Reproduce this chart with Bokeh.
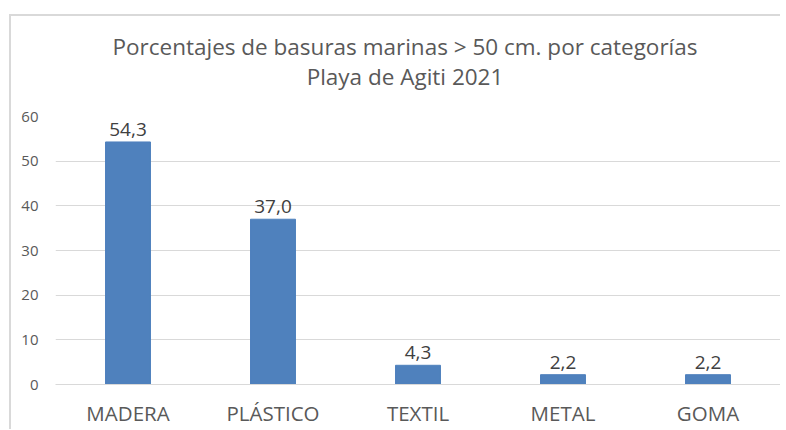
from bokeh.plotting import figure
from bokeh.models import ColumnDataSource, FixedTicker, Div
from bokeh.layouts import column
from bokeh.embed import file_html
from bokeh.resources import INLINE
from bokeh.core.properties import value

categories = ["MADERA", "PLÁSTICO", "TEXTIL", "METAL", "GOMA"]
values = [54.3, 37.0, 4.3, 2.2, 2.2]
labels = [f"{v:.1f}".replace(".", ",") for v in values]
y_ticks = [0, 10, 20, 30, 40, 50, 60]
title_lines = ["Porcentajes de basuras marinas > 50 cm. por categorías", "Playa de Agiti 2021"]

FONT = "Open Sans"
source = ColumnDataSource(dict(cat=categories, val=values, lab=labels))

title_div = Div(
    text="<br>".join(title_lines), width=769, height=84, margin=0,
    styles={"font-family": FONT, "font-size": "22.5px", "line-height": "30px",
            "color": "#595959", "text-align": "center", "padding-top": "16px",
            "padding-left": "19px", "box-sizing": "border-box", "width": "769px",
            "white-space": "nowrap"})

p = figure(x_range=categories, y_range=(0, 60), width=769, height=329,
           output_backend="svg", toolbar_location=None,
           min_border_left=44, min_border_right=0, min_border_bottom=36, min_border_top=16)

p.vbar(x="cat", top="val", width=0.31, source=source, color="#4f81bd")
p.text(x="cat", y="val", text="lab", source=source, text_align="center",
       text_baseline="bottom", y_offset=-6, text_font=value(FONT),
       text_font_size="19px", text_color="#404040")

p.outline_line_color = None
p.xgrid.grid_line_color = None
p.ygrid.grid_line_color = "#d9d9d9"
p.ygrid.ticker = FixedTicker(ticks=y_ticks)
p.yaxis.ticker = FixedTicker(ticks=y_ticks)
p.yaxis.axis_line_color = None
p.yaxis.major_tick_line_color = None
p.yaxis.minor_tick_line_color = None
p.yaxis.major_label_standoff = 11
p.yaxis.major_label_text_font = FONT
p.yaxis.major_label_text_font_size = "15px"
p.yaxis.major_label_text_color = "#595959"

p.xaxis.axis_line_color = "#d9d9d9"
p.xaxis.major_tick_line_color = None
p.xaxis.major_label_standoff = 8
p.xaxis.major_label_text_font = FONT
p.xaxis.major_label_text_font_size = "20.5px"
p.xaxis.major_label_text_color = "#595959"
p.x_range.range_padding = 0

layout = column(title_div, p, spacing=0,
                styles={"margin-top": "14px", "margin-left": "9px",
                        "border-top": "2px solid #d9d9d9", "border-left": "2px solid #d9d9d9"})

open("out.html", "w").write(file_html(layout, INLINE))
